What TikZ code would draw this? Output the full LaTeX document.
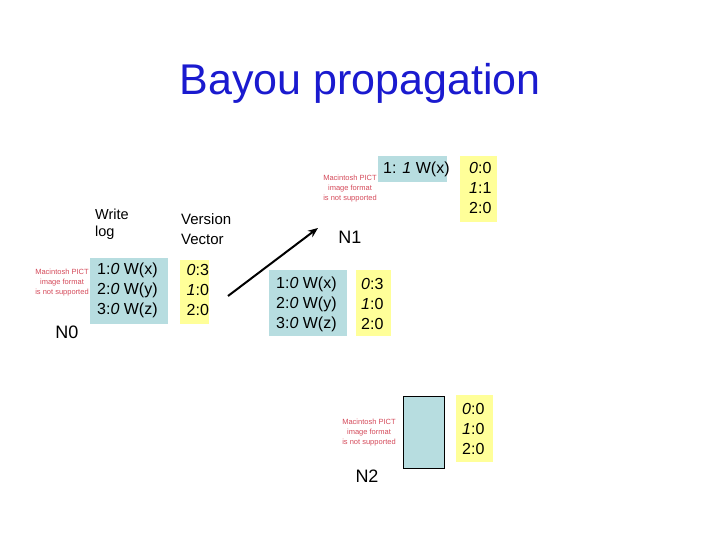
\documentclass[tikz,border=0pt]{standalone}
\usepackage{fontspec}
\setmainfont{Liberation Sans}
\usetikzlibrary{arrows.meta}
\definecolor{logblue}{HTML}{B7DDE0}
\definecolor{vvyellow}{HTML}{FFFF99}
\definecolor{titleblue}{HTML}{1A1ACF}
\definecolor{pictred}{HTML}{D44A5A}
\begin{document}
\begin{tikzpicture}[x=1pt,y=-1pt,
  logbox/.style={fill=logblue, inner sep=0pt, draw=none},
  vvbox/.style={fill=vvyellow, inner sep=0pt, draw=none},
  boxtxt/.style={anchor=west, inner sep=0pt, align=left, font=\fontsize{16}{20}\selectfont},
  lbl/.style={inner sep=0pt, align=left, font=\fontsize{15}{18}\selectfont},
  nodename/.style={inner sep=0pt, font=\fontsize{18}{21}\selectfont},
  pict/.style={inner sep=0pt, align=center, text=pictred, font=\fontsize{7.5}{10}\selectfont}]
\useasboundingbox (0,0) rectangle (720,540);
% title
\node[inner sep=0pt, text=titleblue, font=\fontsize{43}{50}\selectfont] (title) at (360,83) {Bayou propagation};
% labels
\node[lbl, anchor=west, font=\fontsize{14.5}{17}\selectfont] (wlog) at (95,224.5) {Write\\log};
\node[lbl, anchor=west, font=\fontsize{15}{20}\selectfont] (vvec) at (181,229) {Version\\Vector};
% N0
\node[pict] (pict0) at (62,283) {Macintosh PICT\\image format\\is not supported};
\node[logbox, minimum width=78pt, minimum height=66pt] (n0log) at (129,291) {};
\node[boxtxt] (n0logt) at (97,290) {1:\textit{0} W(x)\\2:\textit{0} W(y)\\3:\textit{0} W(z)};
\node[vvbox, minimum width=29pt, minimum height=64pt] (n0vv) at (194.5,292) {};
\node[boxtxt] (n0vvt) at (186.5,290) {\textit{0}:3\\\textit{1}:0\\2:0};
\node[nodename] (n0) at (67,332) {N0};
% arrow
\coordinate (as) at (228,296);
\coordinate (ae) at (318,228);
\draw[line width=2pt, -{Stealth[length=10pt,width=8pt]}] (as) -- (ae);
% N1
\node[pict] (pict1) at (350,189) {Macintosh PICT\\image format\\is not supported};
\node[logbox, minimum width=69pt, minimum height=26pt] (n1log1) at (412.5,169) {};
\node[boxtxt] (n1log1t) at (383,169) {1: \textit{1} W(x)};
\node[vvbox, minimum width=37pt, minimum height=66pt] (n1vv1) at (478.5,189) {};
\node[boxtxt] (n1vv1t) at (469,188) {\textit{0}:0\\\textit{1}:1\\2:0};
\node[nodename] (n1) at (350,237) {N1};
\node[logbox, minimum width=78pt, minimum height=66pt] (n1log2) at (308,303) {};
\node[boxtxt] (n1log2t) at (276,304) {1:\textit{0} W(x)\\2:\textit{0} W(y)\\3:\textit{0} W(z)};
\node[vvbox, minimum width=35pt, minimum height=66pt] (n1vv2) at (373.5,303) {};
\node[boxtxt] (n1vv2t) at (361,304) {\textit{0}:3\\\textit{1}:0\\2:0};
% N2
\node[pict] (pict2) at (369,433) {Macintosh PICT\\image format\\is not supported};
\node[logbox, draw=black, line width=1pt, minimum width=41pt, minimum height=72pt] (n2log) at (423.5,432) {};
\node[vvbox, minimum width=37pt, minimum height=67pt] (n2vv) at (474.5,428.5) {};
\node[boxtxt] (n2vvt) at (462,429) {\textit{0}:0\\\textit{1}:0\\2:0};
\node[nodename] (n2) at (367,476) {N2};
\end{tikzpicture}
\end{document}
